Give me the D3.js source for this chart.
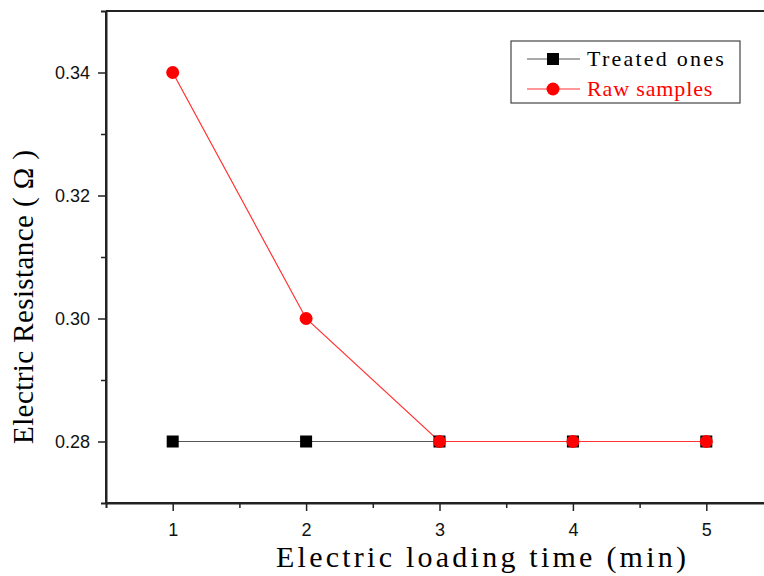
<!DOCTYPE html>
<html>
<head>
<meta charset="utf-8">
<script src="https://cdn.jsdelivr.net/npm/d3@7"></script>
<style>
  body { margin: 0; background: #fff; }
  svg { display: block; }
</style>
</head>
<body>
<div id="chart"></div>
<script>
// data
let times = [1, 2, 3, 4, 5]
let treated = [0.28, 0.28, 0.28, 0.28, 0.28]
let raw = [0.34, 0.30, 0.28, 0.28, 0.28]
let xTicks = [1, 2, 3, 4, 5]
let yTicks = [0.28, 0.30, 0.32, 0.34]

let width = 764, height = 576
let margin = {top: 11, left: 106, bottom: 73}

let svg = d3.select("#chart")
    .append("svg")
    .attr("width", width)
    .attr("height", height)

let x = d3.scaleLinear()
    .domain([0.5, 5.5])
    .range([margin.left, margin.left + 5 * 133.4])

let y = d3.scaleLinear()
    .domain([0.27, 0.35])
    .range([height - margin.bottom, margin.top])

// top frame line
svg.append("line")
    .attr("x1", margin.left).attr("x2", width + 10)
    .attr("y1", margin.top).attr("y2", margin.top)
    .attr("stroke", "#222").attr("stroke-width", 2)

// minor ticks
svg.append("g")
    .attr("transform", `translate(0, ${height - margin.bottom})`)
    .call(d3.axisBottom(x).tickValues([1.5, 2.5, 3.5, 4.5]).tickSize(5).tickFormat(""))
svg.append("g")
    .attr("transform", `translate(${margin.left}, 0)`)
    .call(d3.axisLeft(y).tickValues([0.29, 0.31, 0.33]).tickSize(5).tickFormat(""))

let xAxis = svg.append("g")
    .attr("transform", `translate(0, ${height - margin.bottom})`)
    .call(d3.axisBottom(x).tickValues(xTicks).tickSize(8).tickPadding(12).tickFormat(d3.format("d")))

let yAxis = svg.append("g")
    .attr("transform", `translate(${margin.left}, 0)`)
    .call(d3.axisLeft(y).tickValues(yTicks).tickSize(8).tickPadding(8).tickFormat(d3.format(".2f")))

xAxis.select(".domain").attr("d", `M${margin.left},0H${width + 10}`)
yAxis.select(".domain").attr("d", `M0,${margin.top}V${height - margin.bottom}`)

svg.selectAll(".domain").attr("stroke", "#222").attr("stroke-width", 2)
svg.selectAll(".tick line").attr("stroke", "#222").attr("stroke-width", 1.5)
svg.selectAll(".tick text")
    .style("font-family", "'Liberation Sans', Arial, sans-serif")
    .style("font-size", "18px")
    .attr("fill", "#111")

// lines
let line = d3.line()
    .x(function(d, i) { return x(times[i]) })
    .y(function(d) { return y(d) })

svg.append("path")
    .datum(treated)
    .attr("d", line)
    .attr("fill", "none")
    .attr("stroke", "#555")
    .attr("stroke-width", 1.2)

svg.append("path")
    .datum(raw)
    .attr("d", line)
    .attr("fill", "none")
    .attr("stroke", "#ff3333")
    .attr("stroke-width", 1.2)

svg.selectAll("rect.treated")
    .data(treated)
    .enter()
    .append("rect")
    .attr("class", "treated")
    .attr("x", function(d, i) { return x(times[i]) - 6 })
    .attr("y", function(d) { return y(d) - 6 })
    .attr("width", 12)
    .attr("height", 12)
    .attr("fill", "#000")

svg.selectAll("circle.raw")
    .data(raw)
    .enter()
    .append("circle")
    .attr("class", "raw")
    .attr("cx", function(d, i) { return x(times[i]) })
    .attr("cy", function(d) { return y(d) })
    .attr("r", 6.5)
    .attr("fill", "#ff0000")

// axis titles (serif, spread to a mono-like width)
let titleFont = "'Liberation Serif', 'DejaVu Serif', serif"

svg.append("text")
    .attr("x", 481)
    .attr("y", 567)
    .attr("text-anchor", "middle")
    .attr("textLength", 410)
    .attr("lengthAdjust", "spacing")
    .style("font-family", titleFont)
    .style("font-size", "30px")
    .text("Electric loading time (min)")

svg.append("text")
    .attr("transform", `translate(33, 297) rotate(-90)`)
    .attr("text-anchor", "middle")
    .attr("textLength", 294)
    .attr("lengthAdjust", "spacing")
    .style("font-family", titleFont)
    .style("font-size", "29px")
    .text("Electric Resistance ( Ω )")

// legend
let legend = svg.append("g").attr("transform", "translate(511, 41)")

legend.append("rect")
    .attr("width", 229)
    .attr("height", 62)
    .attr("fill", "#fff")
    .attr("stroke", "#444")
    .attr("stroke-width", 1.2)

let legendItems = [
    {name: "Treated ones", color: "#000", line: "#555", shape: "square"},
    {name: "Raw samples", color: "#ff0000", line: "#ff3333", shape: "circle"}
]

legendItems.forEach(function(d, i) {
    let cy = 18 + i * 30
    legend.append("line")
        .attr("x1", 16).attr("x2", 69)
        .attr("y1", cy).attr("y2", cy)
        .attr("stroke", d.line).attr("stroke-width", 1.2)
    if (d.shape == "square") {
        legend.append("rect")
            .attr("x", 36).attr("y", cy - 6)
            .attr("width", 12).attr("height", 12)
            .attr("fill", d.color)
    } else {
        legend.append("circle")
            .attr("cx", 42).attr("cy", cy)
            .attr("r", 6.5)
            .attr("fill", d.color)
    }
    legend.append("text")
        .attr("x", 76)
        .attr("y", cy + 7)
        .attr("textLength", d.name.length * 11.4)
        .attr("lengthAdjust", "spacing")
        .attr("fill", d.color)
        .style("font-family", titleFont)
        .style("font-size", "22px")
        .text(d.name)
})
</script>
</body>
</html>
